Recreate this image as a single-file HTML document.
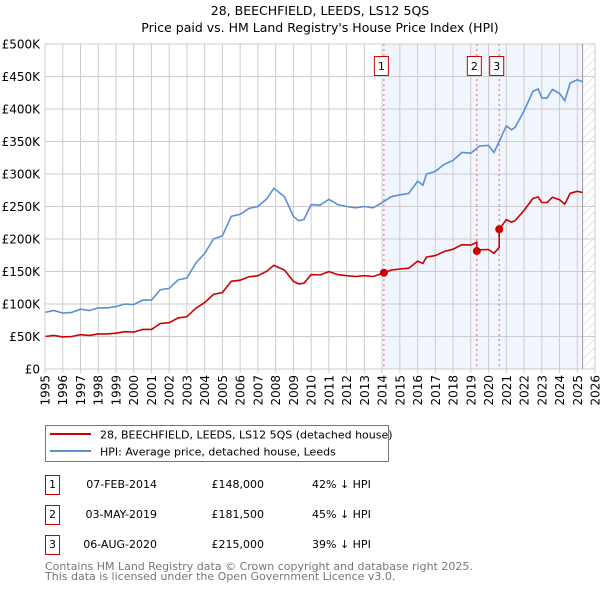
<!DOCTYPE html>
<html><head><meta charset="utf-8"><style>
body{margin:0;background:#fff;font-family:"DejaVu Sans","Liberation Sans",sans-serif;}
svg text{font-family:"DejaVu Sans","Liberation Sans",sans-serif;}
</style></head><body>
<svg id="c" width="600" height="590" xmlns="http://www.w3.org/2000/svg">
<defs><pattern id="hatch" width="6" height="6" patternUnits="userSpaceOnUse" patternTransform="rotate(45)"><line x1="0" y1="0" x2="0" y2="6" stroke="#ccc" stroke-width="1"/></pattern></defs>
<text x="320" y="15" text-anchor="middle" font-size="12.5">28, BEECHFIELD, LEEDS, LS12 5QS</text>
<text x="320" y="32" text-anchor="middle" font-size="12.5">Price paid vs. HM Land Registry's House Price Index (HPI)</text>
<g id="plot"></g>
<g>
<rect x="45.5" y="425.5" width="343" height="36" fill="#fff" stroke="#777"/>
<line x1="50" y1="434" x2="91" y2="434" stroke="#cc0000" stroke-width="2"/>
<text x="100" y="438.5" font-size="11">28, BEECHFIELD, LEEDS, LS12 5QS (detached house)</text>
<line x1="50" y1="451" x2="91" y2="451" stroke="#5b8fd4" stroke-width="2"/>
<text x="100" y="455.5" font-size="11">HPI: Average price, detached house, Leeds</text>
</g>
<g id="tbl" font-size="11"></g>
<text x="45" y="570" font-size="11" fill="#777">Contains HM Land Registry data © Crown copyright and database right 2025.</text>
<text x="45" y="580" font-size="11" fill="#777">This data is licensed under the Open Government Licence v3.0.</text>
</svg>
<script>
const hpiYears=[1995,1995.5,1996,1996.5,1997,1997.5,1998,1998.5,1999,1999.5,2000,2000.5,2001,2001.5,2002,2002.5,2003,2003.5,2004,2004.5,2005,2005.5,2006,2006.5,2007,2007.5,2007.9,2008.5,2009,2009.3,2009.6,2010,2010.5,2011,2011.5,2012,2012.5,2013,2013.5,2014,2014.5,2015,2015.5,2016,2016.3,2016.5,2017,2017.5,2018,2018.5,2019,2019.5,2020,2020.3,2020.6,2021,2021.3,2021.5,2022,2022.5,2022.8,2023,2023.3,2023.6,2024,2024.3,2024.6,2025,2025.3];
const hpiValues=[87,90,86,87,92,90,94,94,96,100,99,106,106,122,124,137,140,163,178,200,205,235,238,247,250,262,278,265,235,228,230,253,252,261,253,250,248,250,248,256,265,268,270,289,283,300,304,315,321,333,332,343,344,333,350,374,368,372,397,427,431,417,417,430,424,413,440,445,442];
const saleDates=[2014.10,2019.34,2020.60];
const salePrices=[148000,181500,215000];
const saleLabels=["1","2","3"];
const saleDateText=["07-FEB-2014","03-MAY-2019","06-AUG-2020"];
const salePriceText=["£148,000","£181,500","£215,000"];
const salePctText=["42% ↓ HPI","45% ↓ HPI","39% ↓ HPI"];
const yTicks=[0,50000,100000,150000,200000,250000,300000,350000,400000,450000,500000];
const yTickLabels=["£0","£50K","£100K","£150K","£200K","£250K","£300K","£350K","£400K","£450K","£500K"];
const xTicks=[1995,1996,1997,1998,1999,2000,2001,2002,2003,2004,2005,2006,2007,2008,2009,2010,2011,2012,2013,2014,2015,2016,2017,2018,2019,2020,2021,2022,2023,2024,2025,2026];

const NS="http://www.w3.org/2000/svg";
const L=45,R=595,T=44,B=369;
const X=y=>L+(y-1995)/(2026-1995)*(R-L);
const Y=v=>B-v/500000*(B-T);
function mk(tag,attrs,parent){const e=document.createElementNS(NS,tag);for(const k in attrs)e.setAttribute(k,attrs[k]);parent.appendChild(e);return e;}
function hpiAt(t){for(let i=0;i<hpiYears.length-1;i++){if(t<=hpiYears[i+1]){const f=(t-hpiYears[i])/(hpiYears[i+1]-hpiYears[i]);return hpiValues[i]+f*(hpiValues[i+1]-hpiValues[i]);}}return hpiValues[hpiValues.length-1];}
const g=document.getElementById('plot');
// shading
const sh=mk('rect',{x:X(saleDates[0]),y:T,width:X(2025.3)-X(saleDates[0]),height:B-T,fill:'#eef2fc',opacity:0.8},g);


const ht=mk('rect',{x:X(2025.3),y:T,width:R-X(2025.3),height:B-T,fill:'url(#hatch)'},g);


// grid
xTicks.forEach(t=>{const l=mk('line',{x1:X(t),x2:X(t),y1:T,y2:B+4,stroke:'#ccc'},g);


const tx=mk('text',{x:0,y:0,'font-size':12,'text-anchor':'end',transform:`translate(${X(t)+4.5},${B+6}) rotate(-90)`},g);tx.textContent=t;

});
yTicks.forEach((v,i)=>{const l=mk('line',{x1:L,x2:R,y1:Y(v),y2:Y(v),stroke:'#ccc'},g);


const tx=mk('text',{x:40,y:Y(v)+4.5,'font-size':12,'text-anchor':'end'},g);tx.textContent=yTickLabels[i];

});
mk('line',{x1:X(2025.3),x2:X(2025.3),y1:T,y2:B,stroke:'#999'},g);
// sale lines
saleDates.forEach((d,i)=>{const l=mk('line',{x1:X(d),x2:X(d),y1:T,y2:B,stroke:'#f06060','stroke-dasharray':'2,3'},g);


const bx=mk('rect',{x:X(d)-9.5,y:56.5,width:14,height:19,fill:'#fff',stroke:'#cc0000'},g);


const tx=mk('text',{x:X(d)-2.5,y:70,'font-size':11,'text-anchor':'middle'},g);tx.textContent=saleLabels[i];

});
// hpi line
let p=hpiYears.map((y,i)=>`${X(y).toFixed(1)},${Y(hpiValues[i]*1000).toFixed(1)}`).join(' ');
const hl=mk('polyline',{points:p,fill:'none',stroke:'#5b8fd4','stroke-width':1.6},g);


// price line
function priceAt(t){let k=0;for(let i=0;i<saleDates.length;i++)if(t>=saleDates[i])k=i;return salePrices[k]*hpiAt(t)/hpiAt(saleDates[k]);}
let ts=[];hpiYears.forEach(y=>ts.push(y));saleDates.forEach(d=>{ts.push(d-0.001);ts.push(d);});ts.sort((a,b)=>a-b);
p=ts.map(t=>`${X(t).toFixed(1)},${Y(priceAt(t)).toFixed(1)}`).join(' ');
const pl=mk('polyline',{points:p,fill:'none',stroke:'#cc0000','stroke-width':1.6},g);


saleDates.forEach((d,i)=>{const c=mk('circle',{cx:X(d),cy:Y(salePrices[i]),r:4,fill:'#cc0000'},g);

});
mk('rect',{x:L,y:T,width:R-L,height:B-T,fill:'none',stroke:'#ccc'},g);
// table
const tb=document.getElementById('tbl');
saleDates.forEach((d,i)=>{const y0=475+i*30;
const bx=mk('rect',{x:45.5,y:y0+0.5,width:14,height:19,fill:'#fff',stroke:'#cc0000'},tb);


const a=mk('text',{x:52.5,y:y0+13,'text-anchor':'middle'},tb);a.textContent=saleLabels[i];


const b=mk('text',{x:157,y:y0+13,'text-anchor':'end'},tb);b.textContent=saleDateText[i];


const c=mk('text',{x:264,y:y0+13,'text-anchor':'end'},tb);c.textContent=salePriceText[i];


const e=mk('text',{x:312,y:y0+13},tb);e.textContent=salePctText[i];

});
</script>
</body></html>
